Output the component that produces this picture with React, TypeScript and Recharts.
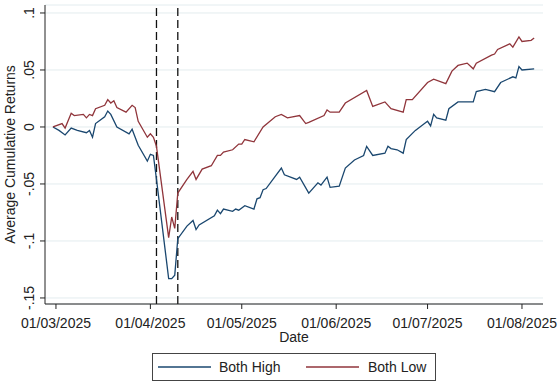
import React from 'react';
import {
  LineChart,
  Line,
  XAxis,
  YAxis,
  CartesianGrid,
  ReferenceLine,
  Legend,
} from 'recharts';

// Both High portfolio
const highDates = [
  '2025-02-28', '2025-03-02', '2025-03-04', '2025-03-06', '2025-03-08', '2025-03-11',
  '2025-03-12', '2025-03-13', '2025-03-14', '2025-03-17', '2025-03-18', '2025-03-19',
  '2025-03-21', '2025-03-25', '2025-03-26', '2025-03-27', '2025-03-28', '2025-03-31',
  '2025-04-01', '2025-04-02', '2025-04-03', '2025-04-07', '2025-04-08', '2025-04-09',
  '2025-04-10', '2025-04-13', '2025-04-15', '2025-04-16', '2025-04-17', '2025-04-22',
  '2025-04-23', '2025-04-24', '2025-04-25', '2025-04-28', '2025-04-29', '2025-04-30',
  '2025-05-02', '2025-05-05', '2025-05-06', '2025-05-07', '2025-05-08', '2025-05-09',
  '2025-05-14', '2025-05-15', '2025-05-19', '2025-05-20', '2025-05-23', '2025-05-26',
  '2025-05-27', '2025-05-29', '2025-05-30', '2025-06-02', '2025-06-04', '2025-06-07',
  '2025-06-10', '2025-06-11', '2025-06-13', '2025-06-17', '2025-06-18', '2025-06-19',
  '2025-06-21', '2025-06-23', '2025-06-24', '2025-06-27', '2025-06-30', '2025-07-01',
  '2025-07-02', '2025-07-03', '2025-07-04', '2025-07-07', '2025-07-08', '2025-07-11',
  '2025-07-16', '2025-07-17', '2025-07-20', '2025-07-23', '2025-07-25', '2025-07-29',
  '2025-07-30', '2025-07-31', '2025-08-01', '2025-08-05',
];
const highValues = [
  0, -0.003, -0.007, -0.001, -0.003, -0.005,
  -0.003, -0.009, 0.003, 0.009, 0.014, 0.011,
  0.0, -0.006, -0.002, -0.009, -0.016, -0.03,
  -0.024, -0.025, -0.046, -0.133, -0.133, -0.13,
  -0.098, -0.087, -0.082, -0.09, -0.086, -0.078,
  -0.073, -0.076, -0.072, -0.074, -0.072, -0.073,
  -0.069, -0.072, -0.063, -0.062, -0.055, -0.054,
  -0.036, -0.042, -0.046, -0.044, -0.058, -0.049,
  -0.051, -0.044, -0.053, -0.052, -0.036, -0.029,
  -0.025, -0.017, -0.025, -0.023, -0.017, -0.019,
  -0.02, -0.023, -0.011, -0.003, 0.003, 0.005,
  0.001, 0.011, 0.008, 0.006, 0.016, 0.022,
  0.022, 0.031, 0.033, 0.031, 0.039, 0.044,
  0.043, 0.053, 0.05, 0.051,
];

// Both Low portfolio
const lowDates = [
  '2025-02-28', '2025-03-03', '2025-03-04', '2025-03-06', '2025-03-07', '2025-03-10',
  '2025-03-11', '2025-03-12', '2025-03-13', '2025-03-14', '2025-03-17', '2025-03-18',
  '2025-03-19', '2025-03-20', '2025-03-21', '2025-03-24', '2025-03-26', '2025-03-27',
  '2025-03-28', '2025-03-31', '2025-04-01', '2025-04-02', '2025-04-03', '2025-04-07',
  '2025-04-08', '2025-04-09', '2025-04-10', '2025-04-13', '2025-04-15', '2025-04-16',
  '2025-04-18', '2025-04-21', '2025-04-23', '2025-04-24', '2025-04-25', '2025-04-28',
  '2025-04-30', '2025-05-01', '2025-05-02', '2025-05-05', '2025-05-08', '2025-05-12',
  '2025-05-14', '2025-05-16', '2025-05-20', '2025-05-22', '2025-05-23', '2025-05-28',
  '2025-05-29', '2025-05-30', '2025-06-02', '2025-06-04', '2025-06-11', '2025-06-13',
  '2025-06-17', '2025-06-19', '2025-06-23', '2025-06-24', '2025-06-26', '2025-07-01',
  '2025-07-03', '2025-07-07', '2025-07-09', '2025-07-11', '2025-07-14', '2025-07-16',
  '2025-07-17', '2025-07-22', '2025-07-23', '2025-07-24', '2025-07-28', '2025-07-29',
  '2025-07-31', '2025-08-01', '2025-08-04', '2025-08-05',
];
const lowValues = [
  0, 0.003, -0.001, 0.012, 0.01, 0.011,
  0.008, 0.011, 0.01, 0.016, 0.019, 0.024,
  0.021, 0.023, 0.017, 0.013, 0.019, 0.017,
  0.005, -0.009, -0.006, -0.009, -0.017, -0.097,
  -0.079, -0.089, -0.058, -0.046, -0.039, -0.046,
  -0.037, -0.034, -0.025, -0.025, -0.022, -0.02,
  -0.015, -0.015, -0.011, -0.013, 0.0, 0.009,
  0.011, 0.008, 0.01, 0.003, 0.004, 0.01,
  0.015, 0.013, 0.013, 0.021, 0.032, 0.018,
  0.022, 0.016, 0.013, 0.024, 0.024, 0.039,
  0.042, 0.038, 0.049, 0.054, 0.056, 0.051,
  0.056, 0.063, 0.064, 0.068, 0.073, 0.07,
  0.079, 0.075, 0.076, 0.078,
];

const xTickDates = ['2025-03-01', '2025-04-01', '2025-05-01', '2025-06-01', '2025-07-01', '2025-08-01'];
const yTicks = [-0.15, -0.1, -0.05, 0, 0.05, 0.1];
const eventDates = ['2025-04-03', '2025-04-10'];

const DAY = 86400000;
const ts = (d: string) => {
  const [y, m, dd] = d.split('-').map(Number);
  return Date.UTC(y, m - 1, dd);
};
const pad = (n: number) => (n < 10 ? '0' + n : '' + n);
const fmtDate = (t: number) => {
  const d = new Date(t);
  return `${pad(d.getUTCDate())}/${pad(d.getUTCMonth() + 1)}/${d.getUTCFullYear()}`;
};
const fmtY = (v: number) => (v === 0 ? '0' : String(v).replace('0.', '.'));

const highData = highDates.map((d, i) => ({ t: ts(d), v: highValues[i] }));
const lowData = lowDates.map((d, i) => ({ t: ts(d), v: lowValues[i] }));

const FONT = '"Liberation Sans", Arial, Helvetica, sans-serif';
const BLUE = '#1a476f';
const RED = '#90353b';

const YTick = ({ x, y, payload }: any) => (
  <text
    x={x}
    y={y}
    transform={`rotate(-90, ${x}, ${y})`}
    textAnchor="middle"
    fontSize={14}
    fontFamily={FONT}
    fill="#222"
  >
    {fmtY(payload.value)}
  </text>
);

const LegendBox = ({ payload }: any) => {
  const items = payload || [];
  const slots = [
    { lx: 6, tx: 67 },
    { lx: 154, tx: 216 },
  ];
  return (
    <svg width={284} height={28} style={{ display: 'block' }}>
      <rect x={0.5} y={0.5} width={283} height={27} fill="#fff" stroke="#444" />
      {items.map((it: any, i: number) => (
        <g key={it.value}>
          <line x1={slots[i].lx} x2={slots[i].lx + 53} y1={14} y2={14} stroke={it.color} strokeWidth={1.3} />
          <text x={slots[i].tx} y={19} fontSize={14} fontFamily={FONT} fill="#222">
            {it.value}
          </text>
        </g>
      ))}
    </svg>
  );
};

export default function App() {
  const start = ts('2025-03-01');
  return (
    <div style={{ position: 'absolute', left: 0, top: 0, background: '#fff' }}>
      <LineChart width={558} height={382} margin={{ top: 5, right: 15, left: 0, bottom: 38 }}>
        <CartesianGrid vertical={false} stroke="#e3ecef" />
        <XAxis
          dataKey="t"
          type="number"
          domain={[start - 3.6 * DAY, start + 159.9 * DAY]}
          allowDataOverflow
          ticks={xTickDates.map(ts)}
          tickFormatter={fmtDate}
          height={40}
          tickSize={5}
          tickMargin={9}
          stroke="#222"
          tick={{ fontSize: 14, fontFamily: FONT, fill: '#222' }}
          label={{ value: 'Date', position: 'insideBottom', offset: 2, fontSize: 14, fontFamily: FONT, fill: '#222' }}
        />
        <YAxis
          type="number"
          domain={[-0.1553, 0.107]}
          allowDataOverflow
          ticks={yTicks}
          width={45}
          tickSize={5}
          tickMargin={6}
          stroke="#222"
          tick={<YTick />}
          label={{
            value: 'Average Cumulative Returns',
            angle: -90,
            position: 'center',
            dx: -12.5,
            fontSize: 14,
            fontFamily: FONT,
            fill: '#222',
          }}
        />
        {eventDates.map((d) => (
          <ReferenceLine key={d} x={ts(d)} stroke="#111" strokeWidth={1.3} strokeDasharray="8 4" />
        ))}
        <Line
          data={highData}
          dataKey="v"
          name="Both High"
          stroke={BLUE}
          strokeWidth={1.3}
          dot={false}
          type="linear"
          isAnimationActive={false}
        />
        <Line
          data={lowData}
          dataKey="v"
          name="Both Low"
          stroke={RED}
          strokeWidth={1.3}
          dot={false}
          type="linear"
          isAnimationActive={false}
        />
        <Legend
          layout="horizontal"
          verticalAlign="middle"
          align="center"
          content={<LegendBox />}
          wrapperStyle={{ left: 152, top: 353, width: 284, height: 28 }}
        />
      </LineChart>
    </div>
  );
}
